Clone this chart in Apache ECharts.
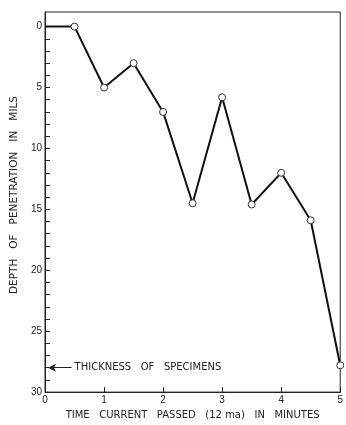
<!DOCTYPE html>
<html>
<head>
<meta charset="utf-8">
<script src="https://cdn.jsdelivr.net/npm/echarts@6/dist/echarts.min.js"></script>
<style>
  html, body { margin: 0; padding: 0; background: #fff; }
  #chart { width: 346px; height: 425px; }
</style>
</head>
<body>
<div id="chart"></div>
<script>
// Penetration depth versus time of current flow
const timeMinutes = [0, 0.5, 1, 1.5, 2, 2.5, 3, 3.5, 4, 4.5, 5];
const depthMils = [0, 0, 5, 3, 7, 14.5, 5.8, 14.6, 12, 15.9, 27.8];
const depthTicks = [0,1,2,3,4,5,6,7,8,9,10,11,12,13,14,15,16,17,18,19,20,21,22,23,24,25,26,27,28,29,30];
const depthLabels = [0, 5, 10, 15, 20, 25, 30];
const specimenThickness = 28;
const thicknessText = 'THICKNESS   OF   SPECIMENS';

const ink = '#222';
const font = 'Liberation Sans';
const titleFont = 'DejaVu Sans';

const chart = echarts.init(document.getElementById('chart'));

const points = timeMinutes.map((t, i) => {
  const p = { value: [t, depthMils[i]] };
  if (i === 0) p.symbol = 'none';
  return p;
});

chart.setOption({
  animation: false,
  backgroundColor: '#fff',
  grid: {
    left: 45, right: 1, top: 12, bottom: 25,
    show: true, borderColor: ink, borderWidth: 1
  },
  xAxis: {
    type: 'value',
    min: 0, max: 5,
    interval: 1,
    name: 'TIME   CURRENT   PASSED   (12 ma)   IN   MINUTES',
    nameLocation: 'middle',
    nameGap: 13,
    nameTextStyle: { fontFamily: titleFont, fontSize: 10, color: ink },
    axisLine: { show: true, onZero: false, lineStyle: { color: ink, width: 1 } },
    axisTick: { show: true, inside: true, length: 5, lineStyle: { color: ink } },
    axisLabel: { fontFamily: font, fontSize: 10, color: ink, margin: 3 },
    splitLine: { show: false }
  },
  yAxis: {
    type: 'value',
    inverse: true,
    min: -1.2, max: 30,
    name: 'DEPTH   OF   PENETRATION   IN   MILS',
    nameLocation: 'middle',
    nameGap: 25,
    nameTextStyle: { fontFamily: titleFont, fontSize: 10.5, color: ink, padding: [0, 0, 0, 14] },
    axisLine: { show: true, onZero: false, lineStyle: { color: ink, width: 1 } },
    axisTick: { show: true, inside: true, length: 5, customValues: depthTicks, lineStyle: { color: ink } },
    axisLabel: { fontFamily: font, fontSize: 10, color: ink, margin: 3, customValues: depthLabels },
    splitLine: { show: false }
  },
  series: [{
    type: 'line',
    data: points,
    symbol: 'circle',
    symbolSize: 7,
    clip: false,
    lineStyle: { color: '#111', width: 2 },
    itemStyle: { color: '#fff', borderColor: '#333', borderWidth: 1 },
    markLine: {
      silent: true,
      symbol: ['arrow', 'none'],
      symbolSize: [6, 8],
      lineStyle: { color: ink, width: 1, type: 'solid' },
      label: {
        show: true, position: 'end', formatter: thicknessText,
        fontFamily: titleFont, fontSize: 10, color: ink, distance: 3
      },
      data: [[
        { coord: [0.05, specimenThickness] },
        { coord: [0.45, specimenThickness] }
      ]]
    }
  }]
});
</script>
</body>
</html>
